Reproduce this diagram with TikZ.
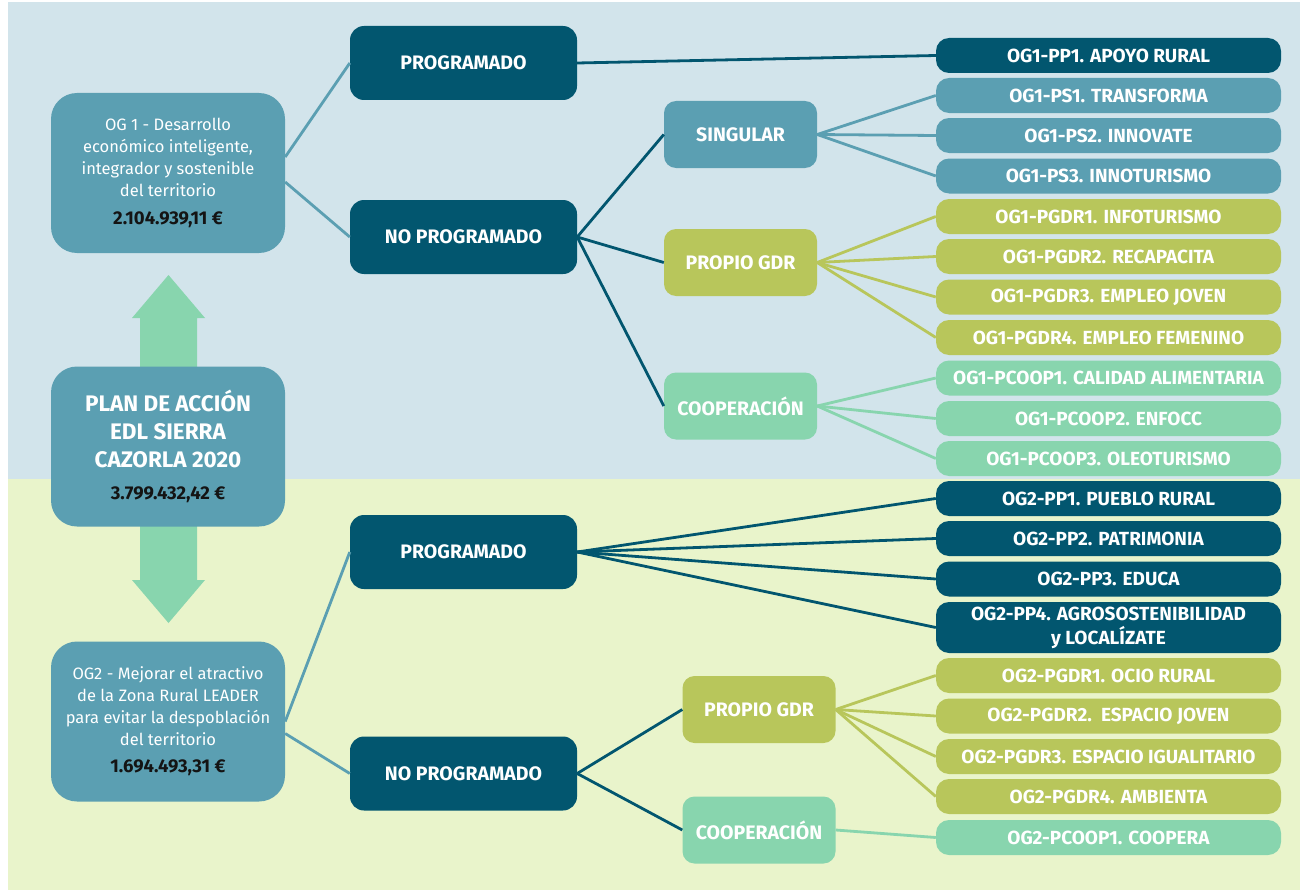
\documentclass[tikz,border=0pt]{standalone}
\usepackage{fontspec}
\setmainfont{Fira Sans}
\usetikzlibrary{positioning}
\definecolor{inkDark}{HTML}{02566F}
\definecolor{teal}{HTML}{5B9FB2}
\definecolor{olive}{HTML}{B8C65B}
\definecolor{mint}{HTML}{88D5AE}
\definecolor{skyBg}{HTML}{D2E4EB}
\definecolor{limeBg}{HTML}{E9F4CB}
\definecolor{amount}{HTML}{141414}

\begin{document}
\begin{tikzpicture}[x=1pt, y=-1pt,
  goalbox/.style={fill=teal, text=white, align=center, minimum width=234pt, minimum height=160pt,
    rounded corners=26pt, inner sep=0pt, font=\fontsize{16.5}{22}\selectfont},
  planbox/.style={goalbox, font=\bfseries\fontsize{22.5}{28}\selectfont},
  kindbox/.style={fill=inkDark, text=white, align=center, minimum width=227pt, minimum height=74pt,
    rounded corners=14pt, inner sep=0pt, font=\bfseries\fontsize{19.5}{22}\selectfont},
  subbox/.style={fill=#1, text=white, align=center, minimum width=153pt, minimum height=67pt,
    rounded corners=12pt, inner sep=0pt, font=\bfseries\fontsize{19.5}{22}\selectfont},
  leaf/.style={fill=#1, text=white, align=center, minimum width=345pt, minimum height=35pt,
    rounded corners=13pt, inner sep=0pt, font=\bfseries\fontsize{19}{24}\selectfont},
  link/.style={draw=#1, line width=2.8pt}
]
\useasboundingbox (0,0) rectangle (1302,891);
% backgrounds
\fill[skyBg] (8,2) rectangle (1300,479);
\fill[limeBg] (8,479) rectangle (1300,890);

% double arrow behind the plan
\fill[mint] (140,318) -- (132,318) -- (168.5,275) -- (205,318) -- (197,318) -- (197,580)
  -- (205,580) -- (168.5,623) -- (132,580) -- (140,580) -- cycle;

% goals
\node[goalbox] (og1) at (168,173) {OG 1 - Desarrollo\\económico inteligente,\\integrador y sostenible\\del territorio\\[6pt]
  {\color{amount}\bfseries\fontsize{18.5}{22}\selectfont 2.104.939,11 €}};
\node[planbox] (plan) at (168,446.5) {PLAN DE ACCIÓN\\EDL SIERRA\\CAZORLA 2020\\[4pt]
  {\color{amount}\fontsize{18.5}{22}\selectfont 3.799.432,42 €}};
\node[goalbox] (og2) at (168,721.5) {OG2 - Mejorar el atractivo\\de la Zona Rural LEADER\\para evitar la despoblación\\del territorio\\[5pt]
  {\color{amount}\bfseries\fontsize{18.5}{22}\selectfont 1.694.493,31 €}};

% programmed / not programmed
\node[kindbox] (prog1) at (463.5,63) {PROGRAMADO};
\node[kindbox] (noprog1) at (463.5,237) {NO PROGRAMADO};
\node[kindbox] (prog2) at (463.5,552) {PROGRAMADO};
\node[kindbox] (noprog2) at (463.5,773.5) {NO PROGRAMADO};

% kinds of project
\node[subbox=teal] (sing1) at (740.5,134.5) {SINGULAR};
\node[subbox=olive] (gdr1) at (740.5,262.5) {PROPIO GDR};
\node[subbox=mint] (coop1) at (740.5,406) {COOPERACIÓN};
\node[subbox=olive] (gdr2) at (759,709.5) {PROPIO GDR};
\node[subbox=mint] (coop2) at (759,830) {COOPERACIÓN};

% projects
\foreach \n/\y/\c/\t in {l1/55.5/inkDark/OG1-PP1. APOYO RURAL,
    l2/95.5/teal/OG1-PS1. TRANSFORMA, l3/135.5/teal/OG1-PS2. INNOVATE, l4/176/teal/OG1-PS3. INNOTURISMO,
    l5/216.5/olive/OG1-PGDR1. INFOTURISMO, l6/256.5/olive/OG1-PGDR2. RECAPACITA,
    l7/297/olive/OG1-PGDR3. EMPLEO JOVEN, l8/337.5/olive/OG1-PGDR4. EMPLEO FEMENINO,
    l9/378/mint/OG1-PCOOP1. CALIDAD ALIMENTARIA, l10/418.5/mint/OG1-PCOOP2. ENFOCC,
    l11/458.5/mint/OG1-PCOOP3. OLEOTURISMO,
    l12/498.5/inkDark/OG2-PP1. PUEBLO RURAL, l13/538.5/inkDark/OG2-PP2. PATRIMONIA,
    l14/579/inkDark/OG2-PP3. EDUCA,
    l16/675.5/olive/OG2-PGDR1. OCIO RURAL, l17/716/olive/OG2-PGDR2.~~ESPACIO JOVEN,
    l18/756.5/olive/OG2-PGDR3. ESPACIO IGUALITARIO, l19/796.5/olive/OG2-PGDR4. AMBIENTA,
    l20/837.5/mint/OG2-PCOOP1. COOPERA} {
  \node[leaf=\c] (\n) at (1108.5,\y) {\t};
}
\node[leaf=inkDark, minimum height=51pt] (l15) at (1108.5,627.5) {OG2-PP4. AGROSOSTENIBILIDAD\\y LOCALÍZATE};

% connectors
\draw[link=teal] ([yshift=16pt]og1.east) -- (prog1.west);
\draw[link=teal] ([yshift=-9pt]og1.east) -- (noprog1.west);
\draw[link=teal] (og2.east) -- (prog2.west);
\draw[link=teal] ([yshift=-12pt]og2.east) -- (noprog2.west);
\draw[link=inkDark] (prog1.east) -- (l1.west);
\foreach \k in {sing1,gdr1,coop1} \draw[link=inkDark] (noprog1.east) -- (\k.west);
\foreach \k in {gdr2,coop2} \draw[link=inkDark] (noprog2.east) -- (\k.west);
\foreach \k in {l12,l13,l14,l15} \draw[link=inkDark] (prog2.east) -- (\k.west);
\foreach \k in {l2,l3,l4} \draw[link=teal] (sing1.east) -- (\k.west);
\foreach \k in {l5,l6,l7,l8} \draw[link=olive] (gdr1.east) -- (\k.west);
\foreach \k in {l9,l10,l11} \draw[link=mint] (coop1.east) -- (\k.west);
\foreach \k in {l16,l17,l18,l19} \draw[link=olive] (gdr2.east) -- (\k.west);
\draw[link=mint] (coop2.east) -- (l20.west);
\end{tikzpicture}
\end{document}
